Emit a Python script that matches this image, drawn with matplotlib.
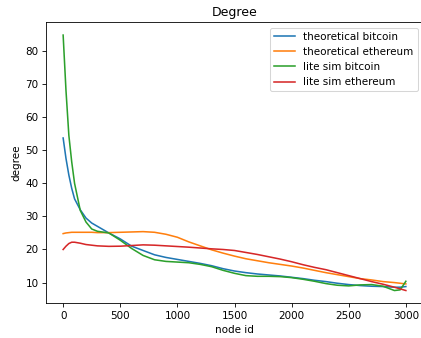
import numpy as np
import matplotlib.pyplot as plt

node_id = [0, 25, 50, 75, 100, 150, 200, 250, 300, 400, 500, 600, 700, 800, 900,
           1000, 1100, 1200, 1300, 1400, 1500, 1600, 1700, 1800, 1900, 2000,
           2100, 2200, 2300, 2400, 2500, 2600, 2700, 2800, 2900, 2950, 3000]

theo_bitcoin = [53.7, 47.5, 42.5, 38.5, 35.3, 32.0, 29.5, 28.0, 27.0, 25.0, 23.2,
                21.0, 19.7, 18.4, 17.6, 17.0, 16.4, 15.8, 15.1, 14.2, 13.5, 13.0,
                12.6, 12.3, 12.0, 11.6, 11.2, 10.7, 10.3, 9.8, 9.4, 9.1, 8.9, 8.8,
                8.6, 8.6, 8.8]

theo_ethereum = [24.8, 25.0, 25.1, 25.2, 25.2, 25.2, 25.2, 25.2, 25.1, 25.1, 25.2,
                 25.3, 25.4, 25.2, 24.6, 23.7, 22.3, 21.1, 19.9, 18.9, 18.0, 17.2,
                 16.6, 16.0, 15.5, 15.0, 14.4, 13.7, 13.0, 12.4, 11.8, 11.2, 10.8,
                 10.3, 10.0, 9.8, 9.6]

lite_bitcoin = [84.8, 68.0, 54.5, 46.5, 40.0, 31.8, 28.3, 26.2, 25.5, 25.0, 22.8,
                20.3, 18.2, 16.9, 16.4, 16.2, 16.0, 15.5, 14.8, 13.7, 12.8, 12.1,
                11.9, 11.9, 11.8, 11.5, 11.0, 10.4, 9.7, 9.2, 9.0, 9.3, 9.4, 8.9,
                7.6, 7.8, 10.4]

lite_ethereum = [20.0, 21.0, 21.8, 22.2, 22.2, 21.9, 21.5, 21.3, 21.1, 20.95, 21.0,
                 21.2, 21.4, 21.3, 21.1, 20.9, 20.7, 20.45, 20.2, 20.0, 19.7, 19.1,
                 18.5, 17.8, 17.1, 16.3, 15.4, 14.6, 13.9, 13.0, 12.1, 11.2, 10.3,
                 9.5, 8.6, 8.1, 7.6]

dpi = 75
fig = plt.figure(figsize=(421/dpi, 338/dpi), dpi=dpi)
ax = fig.add_axes([46/421, 34.7/338, 377/421, 281/338])

ax.plot(node_id, theo_bitcoin, label='theoretical bitcoin')
ax.plot(node_id, theo_ethereum, label='theoretical ethereum')
ax.plot(node_id, lite_bitcoin, label='lite sim bitcoin')
ax.plot(node_id, lite_ethereum, label='lite sim ethereum')

ax.set_title('Degree')
ax.set_xlabel('node id')
ax.set_ylabel('degree')
ax.legend(loc='upper right')

fig.savefig('out.png', dpi=dpi)
